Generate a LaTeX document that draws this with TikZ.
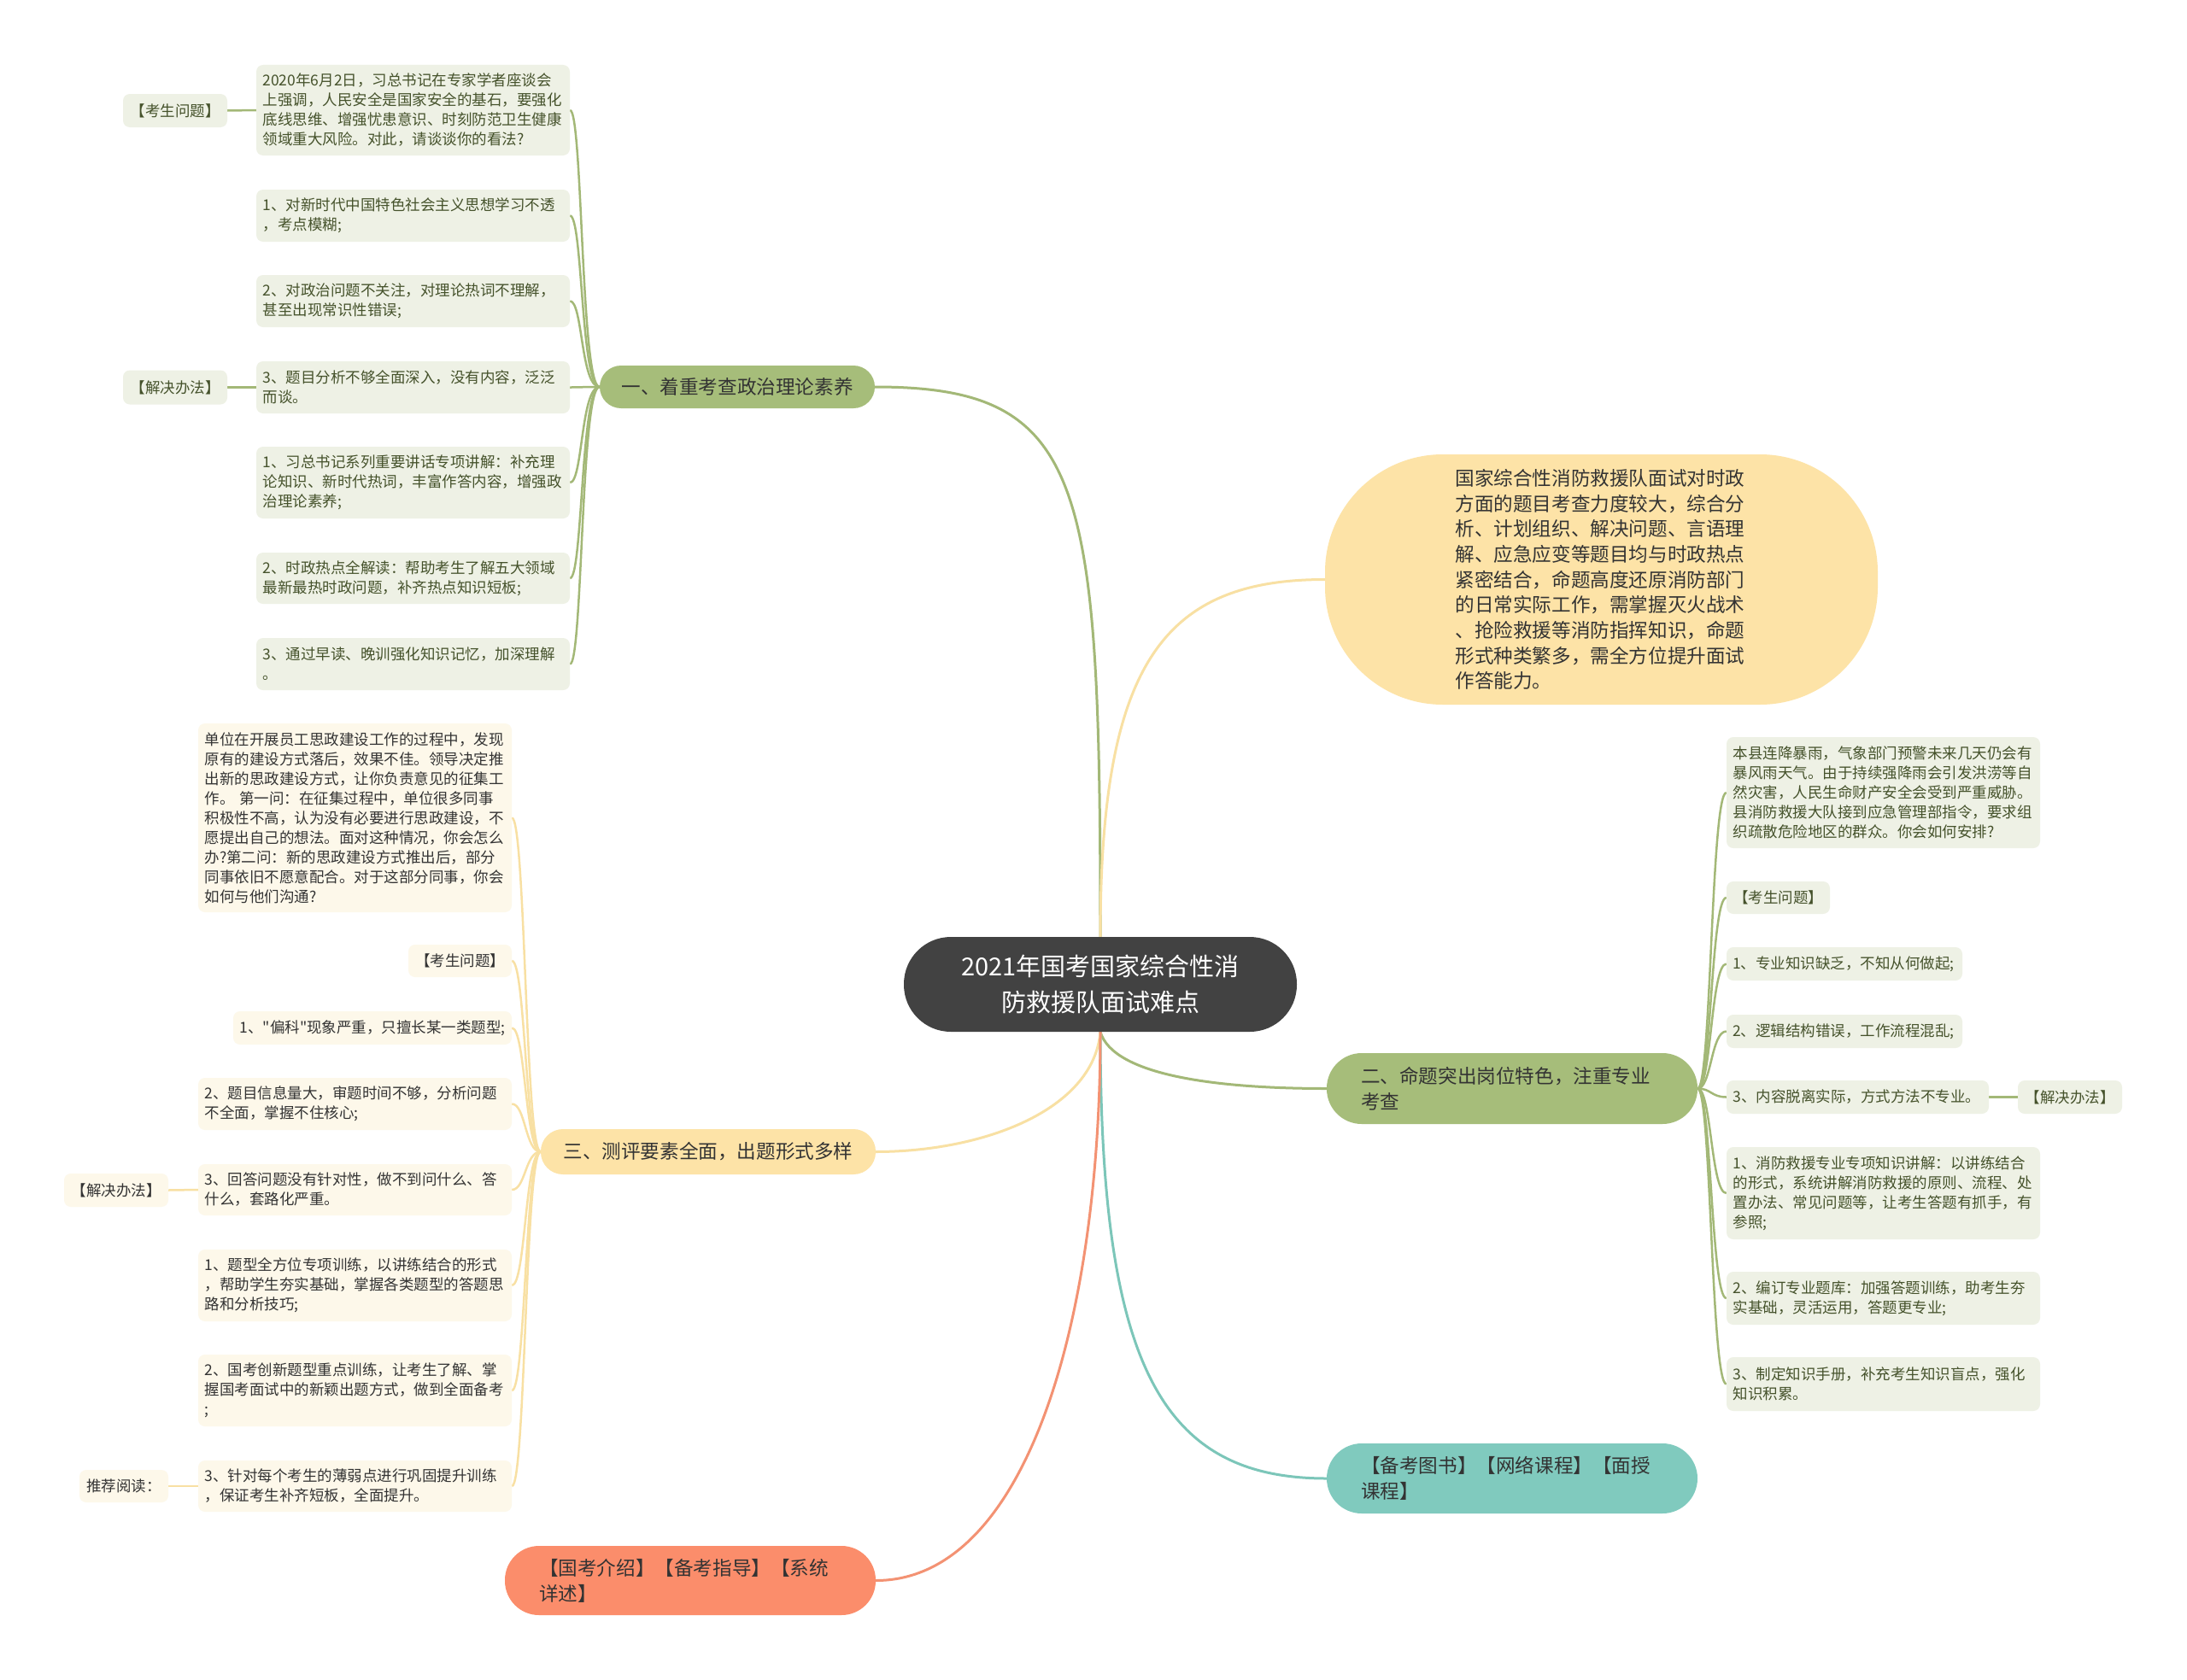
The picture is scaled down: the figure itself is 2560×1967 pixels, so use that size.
\documentclass[tikz,border=0pt]{standalone}
\usepackage{fontspec}
\setmainfont{Noto Sans CJK SC}[Ligatures=TeXOff]
\usetikzlibrary{backgrounds}
\definecolor{cCenter}{HTML}{424242}
\definecolor{cGreen}{HTML}{A6BD7A}
\definecolor{cLineG}{HTML}{A3B877}
\definecolor{cLeafG}{HTML}{EEF1E5}
\definecolor{cLeafGt}{HTML}{45522B}
\definecolor{cYellow}{HTML}{FDE3A7}
\definecolor{cLineY}{HTML}{F8E0A3}
\definecolor{cLeafY}{HTML}{FDF8EA}
\definecolor{cTeal}{HTML}{80CABE}
\definecolor{cLineT}{HTML}{7CC6B9}
\definecolor{cOrange}{HTML}{FB8D6B}
\definecolor{cLineO}{HTML}{F39273}
\definecolor{cText}{HTML}{333333}
\begin{document}
\begin{tikzpicture}[x=1pt,y=-1pt,
  leafG/.style={rectangle,rounded corners=8pt,fill=cLeafG,text=cLeafGt,align=left,inner xsep=7.5pt,inner ysep=0pt,font=\fontsize{17.5}{23}\selectfont},
  leafY/.style={rectangle,rounded corners=8pt,fill=cLeafY,text=cText,align=left,inner xsep=7.5pt,inner ysep=0pt,font=\fontsize{17.5}{23}\selectfont},
  pill/.style={rectangle,inner ysep=0pt,text=cText,font=\fontsize{22.6}{30}\selectfont},
  lnG/.style={draw=cLineG,line width=2.5pt},
  lnY/.style={draw=cLineY,line width=2.5pt},
  mainG/.style={draw=cLineG,line width=3pt},
  mainY/.style={draw=cLineY,line width=3pt},
  mainT/.style={draw=cLineT,line width=3pt},
  mainO/.style={draw=cLineO,line width=3pt}]
\useasboundingbox (0,0) rectangle (2560,1967);

% central
\node[rectangle,rounded corners=55pt,fill=cCenter,text=white,minimum width=460pt,minimum height=111pt,inner sep=0pt,align=center,font=\fontsize{29}{42}\selectfont] (ctr) at (1288,1152.5) {2021年国考国家综合性消\\防救援队面试难点};

% main branches
\node[pill,fill=cGreen,rounded corners=25pt,minimum width=322pt,minimum height=50pt,inner xsep=0pt] (b1) at (863,453) {一、着重考查政治理论素养};
\node[pill,fill=cYellow,rounded corners=138pt,minimum width=647pt,minimum height=293pt,inner xsep=0pt,text width=342pt,align=left,font=\fontsize{22.6}{29.7}\selectfont] (big) at (1874.5,678.5) {国家综合性消防救援队面试对时政\\方面的题目考查力度较大，综合分\\析、计划组织、解决问题、言语理\\解、应急应变等题目均与时政热点\\紧密结合，命题高度还原消防部门\\的日常实际工作，需掌握灭火战术\\、抢险救援等消防指挥知识，命题\\形式种类繁多，需全方位提升面试\\作答能力。};
\node[pill,fill=cGreen,rounded corners=41pt,minimum height=83pt,inner xsep=40pt,text width=354pt,align=left] (b2) at (1770,1274.5) {二、命题突出岗位特色，注重专业\\考查};
\node[pill,fill=cTeal,rounded corners=41pt,minimum height=82pt,inner xsep=40pt,text width=354pt,align=left] (tl) at (1770,1731) {【备考图书】【网络课程】【面授\\课程】};
\node[pill,fill=cYellow,rounded corners=26pt,minimum width=392pt,minimum height=53pt,inner xsep=0pt] (b3) at (829,1348.5) {三、测评要素全面，出题形式多样};
\node[pill,fill=cOrange,rounded corners=40pt,minimum height=81pt,inner xsep=40pt,text width=354pt,align=left] (org) at (808,1850.5) {【国考介绍】【备考指导】【系统\\详述】};

% branch 1 leaves
\node[leafG,text width=352pt,minimum height=106pt] (g0) at (483.5,129) {2020年6月2日，习总书记在专家学者座谈会\\上强调，人民安全是国家安全的基石，要强化\\底线思维、增强忧患意识、时刻防范卫生健康\\领域重大风险。对此，请谈谈你的看法?};
\node[leafG,text width=352pt,minimum height=61pt] (g1) at (483.5,252.5) {1、对新时代中国特色社会主义思想学习不透\\，考点模糊;};
\node[leafG,text width=352pt,minimum height=61pt] (g2) at (483.5,352.5) {2、对政治问题不关注，对理论热词不理解，\\甚至出现常识性错误;};
\node[leafG,text width=352pt,minimum height=61pt] (g3) at (483.5,453.5) {3、题目分析不够全面深入，没有内容，泛泛\\而谈。};
\node[leafG,text width=352pt,minimum height=84pt] (g4) at (483.5,565) {1、习总书记系列重要讲话专项讲解：补充理\\论知识、新时代热词，丰富作答内容，增强政\\治理论素养;};
\node[leafG,text width=352pt,minimum height=60pt] (g5) at (483.5,677) {2、时政热点全解读：帮助考生了解五大领域\\最新最热时政问题，补齐热点知识短板;};
\node[leafG,text width=352pt,minimum height=61pt] (g6) at (483.5,777.5) {3、通过早读、晚训强化知识记忆，加深理解\\。};
\node[leafG,text width=107pt,minimum height=39pt,align=center] (gq) at (205,129.5) {【考生问题】};
\node[leafG,text width=107pt,minimum height=40pt,align=center] (gs) at (205,453.5) {【解决办法】};

% branch 2 leaves
\node[leafG,text width=352pt,minimum height=130pt] (r0) at (2204.5,928) {本县连降暴雨，气象部门预警未来几天仍会有\\暴风雨天气。由于持续强降雨会引发洪涝等自\\然灾害，人民生命财产安全会受到严重威胁。\\县消防救援大队接到应急管理部指令，要求组\\织疏散危险地区的群众。你会如何安排?};
\node[leafG,text width=106pt,minimum height=38pt,align=center] (rq) at (2081.5,1051) {【考生问题】};
\node[leafG,text width=262pt,inner xsep=7pt,minimum height=39pt] (r1) at (2159,1128.5) {1、专业知识缺乏，不知从何做起;};
\node[leafG,text width=262pt,inner xsep=7pt,minimum height=39pt] (r2) at (2159,1207.5) {2、逻辑结构错误，工作流程混乱;};
\node[leafG,text width=292pt,minimum height=39pt] (r3) at (2174.5,1284.5) {3、内容脱离实际，方式方法不专业。};
\node[leafG,text width=107pt,minimum height=39pt,align=center] (rs) at (2423,1284.5) {【解决办法】};
\node[leafG,text width=352pt,minimum height=108pt] (r4) at (2204.5,1397) {1、消防救援专业专项知识讲解：以讲练结合\\的形式，系统讲解消防救援的原则、流程、处\\置办法、常见问题等，让考生答题有抓手，有\\参照;};
\node[leafG,text width=352pt,minimum height=62pt] (r5) at (2204.5,1520) {2、编订专业题库：加强答题训练，助考生夯\\实基础，灵活运用，答题更专业;};
\node[leafG,text width=352pt,minimum height=63pt] (r6) at (2204.5,1620.5) {3、制定知识手册，补充考生知识盲点，强化\\知识积累。};

% branch 3 leaves
\node[leafY,text width=352pt,minimum height=221pt] (l0) at (415.5,957.5) {单位在开展员工思政建设工作的过程中，发现\\原有的建设方式落后，效果不佳。领导决定推\\出新的思政建设方式，让你负责意见的征集工\\作。 第一问：在征集过程中，单位很多同事\\积极性不高，认为没有必要进行思政建设，不\\愿提出自己的想法。面对这种情况，你会怎么\\办?第二问：新的思政建设方式推出后，部分\\同事依旧不愿意配合。对于这部分同事，你会\\如何与他们沟通?};
\node[leafY,text width=106pt,minimum height=38pt,align=center] (lq) at (538.5,1125) {【考生问题】};
\node[leafY,text width=311pt,minimum height=39pt] (l1) at (436,1203.5) {1、"偏科"现象严重，只擅长某一类题型;};
\node[leafY,text width=352pt,minimum height=61pt] (l2) at (415.5,1292.5) {2、题目信息量大，审题时间不够，分析问题\\不全面，掌握不住核心;};
\node[leafY,text width=352pt,minimum height=60pt] (l3) at (415.5,1393) {3、回答问题没有针对性，做不到问什么、答\\什么，套路化严重。};
\node[leafY,text width=107pt,minimum height=39pt,align=center] (ls) at (136,1393.5) {【解决办法】};
\node[leafY,text width=352pt,minimum height=84pt] (l4) at (415.5,1505) {1、题型全方位专项训练，以讲练结合的形式\\，帮助学生夯实基础，掌握各类题型的答题思\\路和分析技巧;};
\node[leafY,text width=352pt,minimum height=84pt] (l5) at (415.5,1628) {2、国考创新题型重点训练，让考生了解、掌\\握国考面试中的新颖出题方式，做到全面备考\\;};
\node[leafY,text width=352pt,minimum height=60pt] (l6) at (415.5,1740) {3、针对每个考生的薄弱点进行巩固提升训练\\，保证考生补齐短板，全面提升。};
\node[leafY,text width=89pt,minimum height=38pt,align=center] (lr) at (145,1740) {推荐阅读：};

\begin{scope}[on background layer]
\fill[white] (0,0) rectangle (2560,1967);
% main connectors
\draw[mainG] (ctr.north) .. controls +(0,-537) and +(246,0) .. (b1.east);
\draw[mainY] (ctr.north) .. controls +(0,-317) and +(-191,0) .. (big.west);
\draw[mainG] (ctr.south) .. controls +(15,50) and +(-133,0) .. (b2.west);
\draw[mainT] (ctr.south) .. controls +(0,392) and +(-193,0) .. (tl.west);
\draw[mainY] (ctr.south) .. controls +(-8,92) and +(125,0) .. (b3.east);
\draw[mainO] (ctr.south) .. controls +(0,342) and +(175,0) .. (org.east);
% branch 1
\foreach \n in {g0,g1,g2,g3,g4,g5,g6}
  \draw[lnG] (b1.west) .. controls +(-22,0) and +(15,0) .. (\n.east);
\draw[lnG] (gq.east) -- (g0.west);
\draw[lnG] (gs.east) -- (g3.west);
% branch 2
\foreach \n in {r0,rq,r1,r2,r3,r4,r5,r6}
  \draw[lnG] (b2.east) .. controls +(16,0) and +(-18,0) .. (\n.west);
\draw[lnG] (r3.east) -- (rs.west);
% branch 3
\foreach \n in {l0,lq,l1,l2,l3,l4,l5,l6}
  \draw[lnY] (b3.west) .. controls +(-18,0) and +(16,0) .. (\n.east);
\draw[lnY] (ls.east) -- (l3.west);
\draw[lnY] (lr.east) -- (l6.west);
\end{scope}
\end{tikzpicture}
\end{document}
